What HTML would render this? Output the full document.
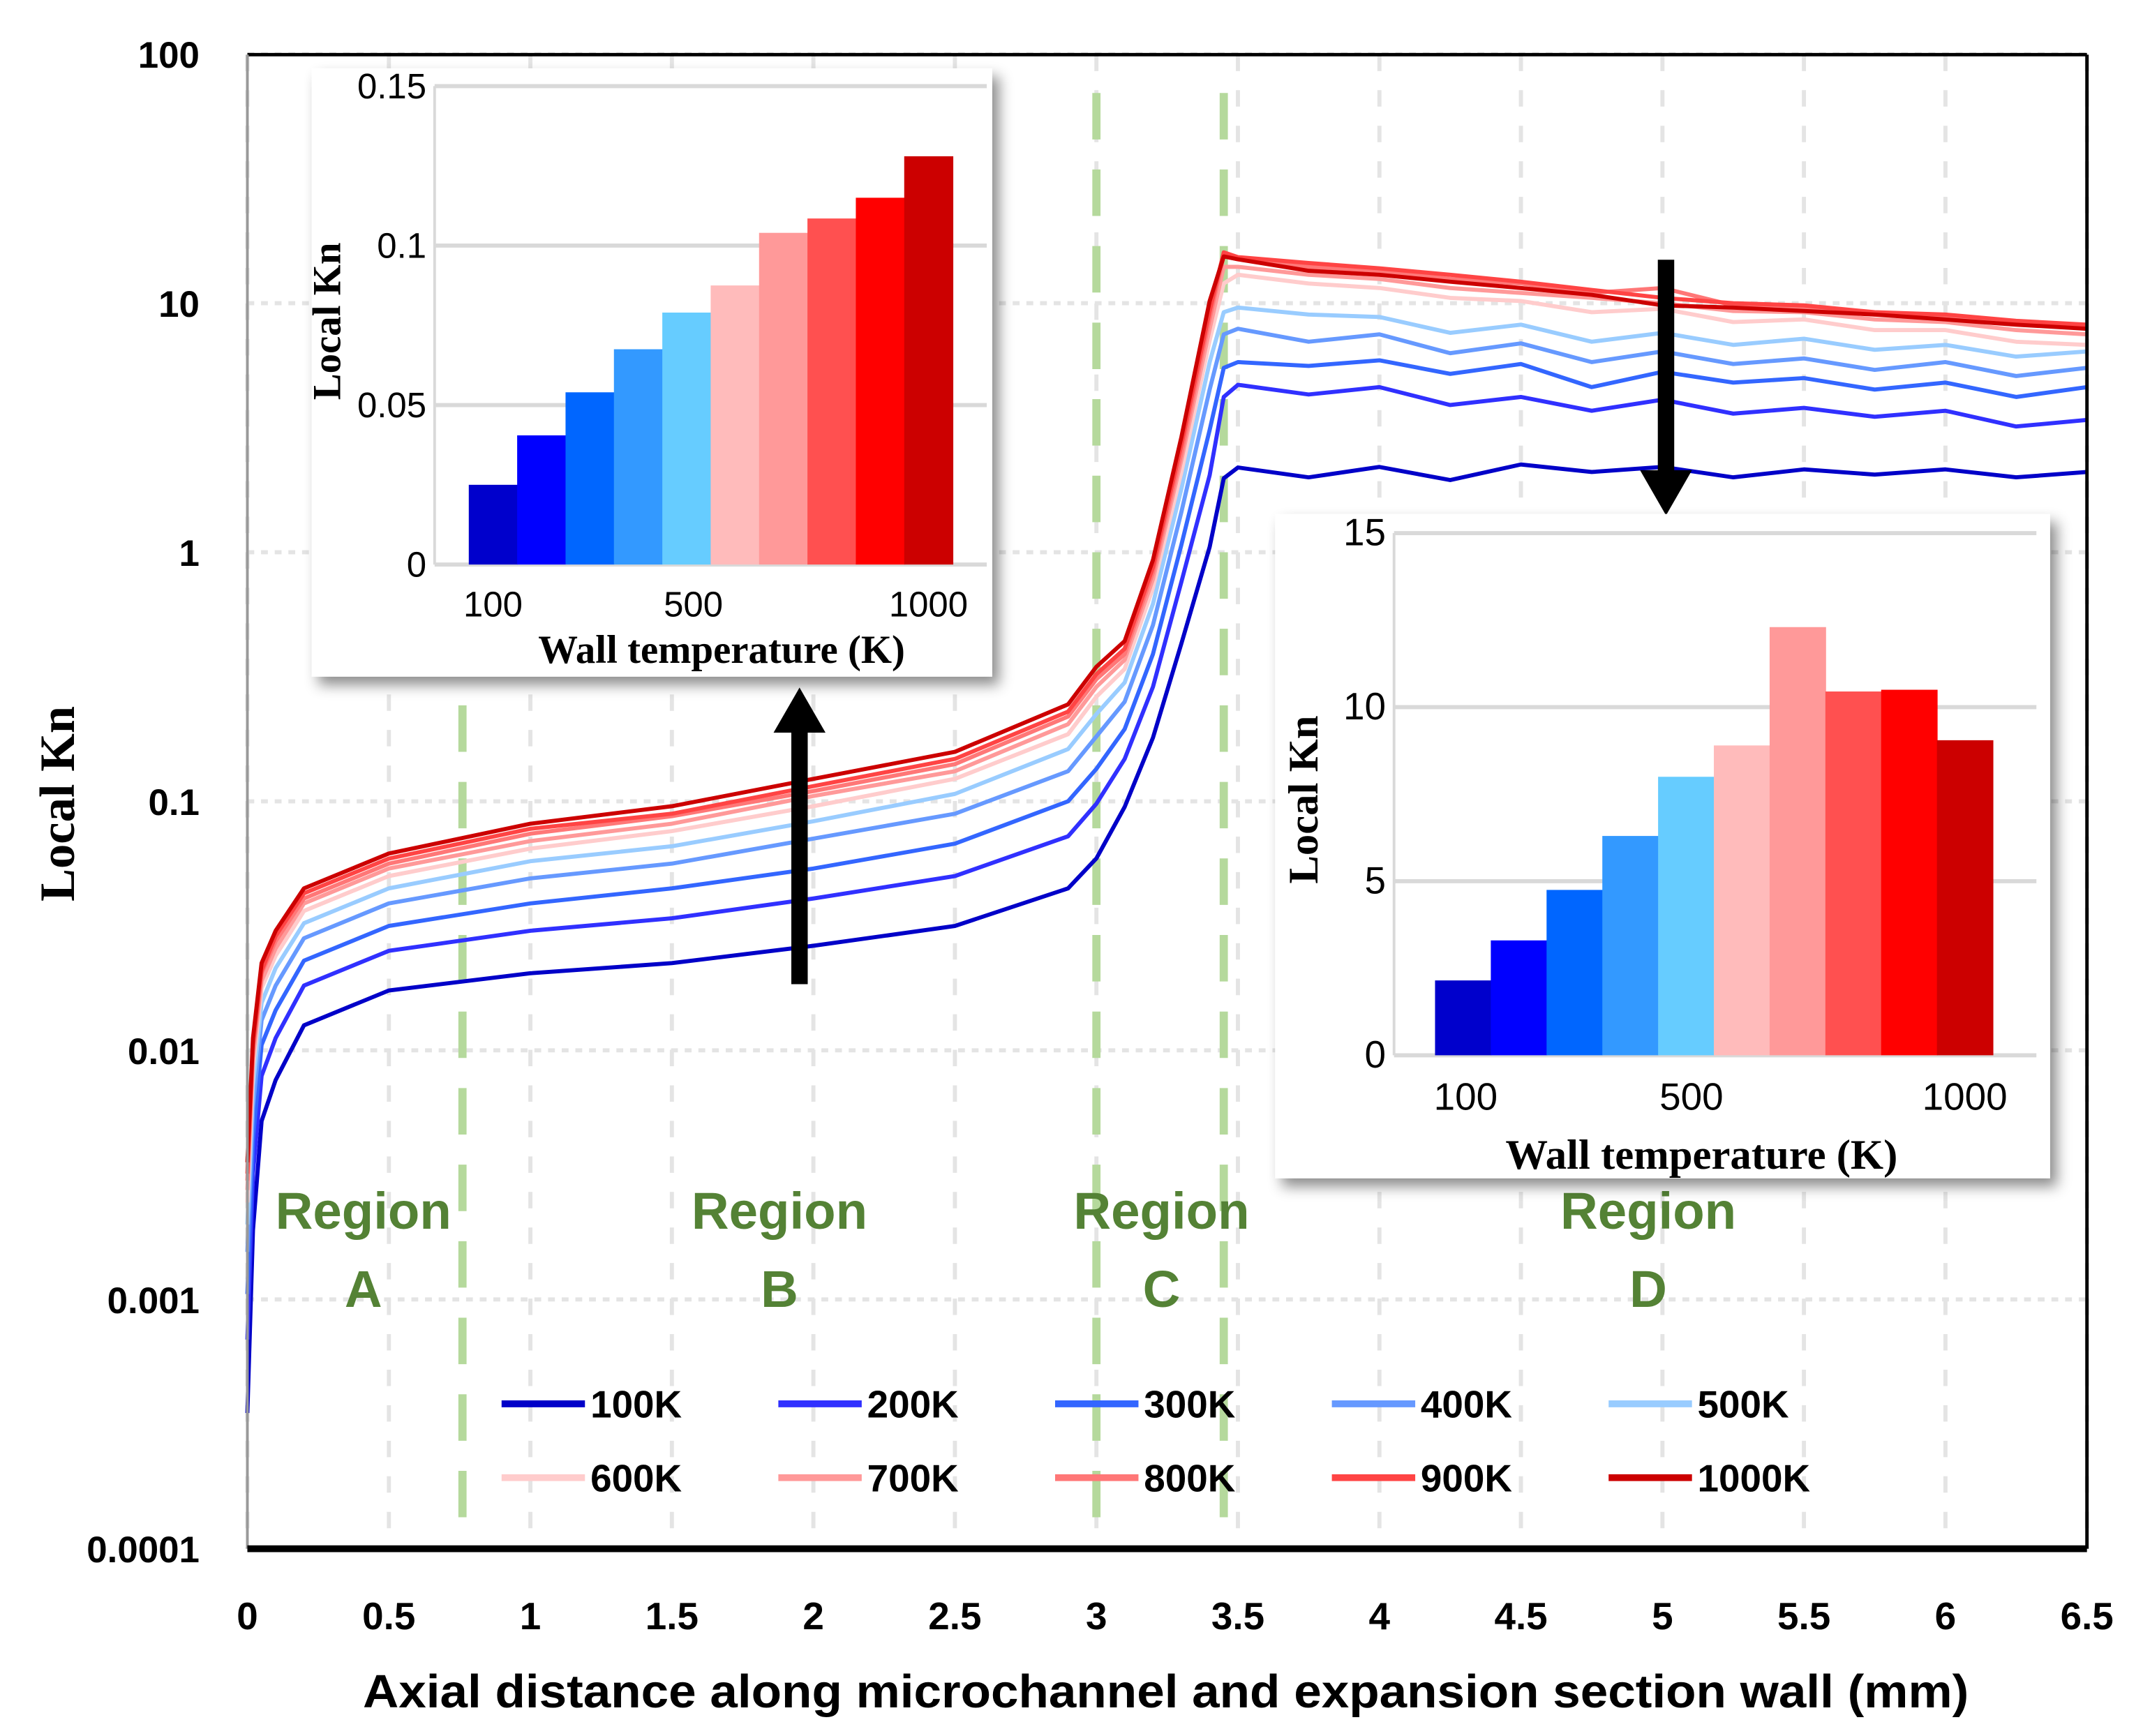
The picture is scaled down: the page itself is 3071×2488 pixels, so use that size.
<!DOCTYPE html>
<html><head><meta charset="utf-8"><style>html,body{margin:0;padding:0;background:#fff}svg{display:block}</style></head>
<body>
<svg id="chart" xmlns="http://www.w3.org/2000/svg" width="3071" height="2488" viewBox="0 0 1568 1270" preserveAspectRatio="none">
<defs><filter id="sh" x="-10%" y="-10%" width="125%" height="125%"><feDropShadow dx="5" dy="6" stdDeviation="5" flood-color="#000" flood-opacity="0.45"/></filter></defs>
<g id="grid"></g><g id="guides"></g><g id="lines"></g><g id="axes"></g><g id="labels"></g><g id="legend"></g><g id="arrows"></g><g id="inset1"></g><g id="inset2"></g>
</svg>
<script>
const NS='http://www.w3.org/2000/svg';
const series=['100K','200K','300K','400K','500K','600K','700K','800K','900K','1000K'];
const colors=['#0000c8','#3030ff','#3366ff','#6699ff','#99ccff','#ffcccc','#ff9999','#ff7777','#ff4444','#cc0000'];
const xGrid=[0,0.02,0.05,0.1,0.2,0.5,1,1.5,2,2.5,2.9,3.0,3.1,3.2,3.3,3.4,3.45,3.5,3.75,4.0,4.25,4.5,4.75,5.0,5.25,5.5,5.75,6.0,6.25,6.5];
const kn100=[0.00035,0.0019,0.0052,0.0076,0.0126,0.0174,0.0204,0.0224,0.0263,0.0316,0.0447,0.059,0.095,0.18,0.43,1.05,1.98,2.19,2.0,2.2,1.95,2.25,2.1,2.2,2.0,2.15,2.05,2.15,2.0,2.1];
const kn200=[0.00069,0.0032,0.0079,0.0112,0.0182,0.0251,0.0302,0.0339,0.0407,0.0501,0.0724,0.0977,0.148,0.288,0.76,2.04,4.2,4.7,4.3,4.6,3.9,4.2,3.7,4.1,3.6,3.8,3.5,3.7,3.2,3.4];
const kn300=[0.00105,0.0044,0.0105,0.0145,0.0229,0.0316,0.0389,0.0447,0.0537,0.0676,0.100,0.135,0.195,0.39,1.07,3.1,5.5,5.8,5.6,5.9,5.2,5.7,4.6,5.3,4.8,5.0,4.5,4.8,4.2,4.6];
const kn400=[0.00155,0.0059,0.0132,0.0182,0.0282,0.0389,0.049,0.0562,0.0708,0.0891,0.132,0.182,0.251,0.51,1.45,4.5,7.5,7.9,7.0,7.5,6.3,6.9,5.8,6.4,5.7,6.0,5.4,5.8,5.1,5.5];
const kn500=[0.002,0.0072,0.0155,0.0214,0.0324,0.0447,0.0575,0.066,0.0832,0.107,0.162,0.224,0.30,0.62,1.8,5.8,9.2,9.6,9.0,8.8,7.6,8.2,7.0,7.6,6.8,7.2,6.5,6.8,6.1,6.4];
const kn600=[0.00245,0.0085,0.0178,0.024,0.0363,0.0501,0.0646,0.0759,0.0955,0.123,0.186,0.263,0.34,0.72,2.1,7.1,12,13,12,11.5,10.5,10.2,9.2,9.5,8.4,8.6,7.8,7.8,7.0,6.8];
const kn700=[0.00275,0.0093,0.019,0.0257,0.0389,0.0537,0.0692,0.0813,0.105,0.132,0.204,0.288,0.37,0.78,2.35,7.9,14,14,13,12.5,11.5,11,10.5,10,9.3,9.2,8.6,8.4,7.8,7.5];
const kn800=[0.003,0.01,0.0204,0.0275,0.0407,0.0562,0.0741,0.0871,0.11,0.141,0.219,0.309,0.39,0.83,2.5,8.7,15.5,15,14,13.5,12.5,12,11,11.5,9.8,9.6,9.0,8.8,8.3,8.0];
const kn900=[0.0032,0.0105,0.0209,0.0288,0.0427,0.0589,0.0776,0.0891,0.115,0.148,0.229,0.324,0.41,0.87,2.7,9.3,16,15.3,14.5,13.8,13,12.2,11.3,10.5,10,9.8,9.2,9.0,8.5,8.2];
const kn1000=[0.00355,0.0112,0.0224,0.0302,0.0447,0.0617,0.0813,0.0955,0.123,0.158,0.245,0.347,0.44,0.93,2.9,10.2,15.4,15,13.5,13,12.2,11.5,10.8,9.8,9.6,9.3,9.0,8.6,8.2,7.9];
const xTicks=['0','0.5','1','1.5','2','2.5','3','3.5','4','4.5','5','5.5','6','6.5'];
const yTicks=['0.0001','0.001','0.01','0.1','1','10','100'];
const regionBounds=[0.76,3.0,3.45];
const regionNames=['A','B','C','D'];
const regionCenters=[0.41,1.88,3.23,4.95];
const barTemps=['100','200','300','400','500','600','700','800','900','1000'];
const barColors=['#0000cc','#0000ff','#0066ff','#3399ff','#66ccff','#ffbbbb','#ff9999','#ff5050','#ff0000','#cc0000'];
const inset1Vals=[0.025,0.0405,0.054,0.0675,0.079,0.0875,0.104,0.1085,0.115,0.128];
const inset1Ticks=['0','0.05','0.1','0.15'];
const inset2Vals=[2.15,3.3,4.75,6.3,8.0,8.9,12.3,10.45,10.5,9.05];
const inset2Ticks=['0','5','10','15'];

const allSeries=[kn100,kn200,kn300,kn400,kn500,kn600,kn700,kn800,kn900,kn1000];
const X0=181,X1=1527,YT=40,YB=1133;
const xs=v=>X0+(X1-X0)*v/6.5;
const ys=v=>404-182.2*Math.log10(v);
function mk(tag,attrs,parent,text){const e=document.createElementNS(NS,tag);for(const k in attrs)e.setAttribute(k,attrs[k]);if(text!==undefined)e.textContent=text;parent.appendChild(e);return e;}
const g=id=>document.getElementById(id);
const SANS='"Liberation Sans", Arial, sans-serif', SERIF='"Liberation Serif", "Times New Roman", serif';

for(let i=0;i<yTicks.length;i++){const y=ys(Number(yTicks[i]));
 const l=mk('line',{x1:X0,x2:X1,y1:y,y2:y,stroke:'#e4e4e4','stroke-width':3,'stroke-dasharray':'5 5'},g('grid'));
 }
for(let i=0;i<xTicks.length;i++){const x=xs(Number(xTicks[i]));
 const l=mk('line',{x1:x,x2:x,y1:YT,y2:YB,stroke:'#e4e4e4','stroke-width':3,'stroke-dasharray':'12 14'},g('grid'));
 }
for(const b of regionBounds){const x=xs(b);
 const l=mk('line',{x1:x,x2:x,y1:YT+28,y2:YB,stroke:'#b5d99c','stroke-width':6,'stroke-dasharray':'34 22'},g('guides'));
 }
allSeries.forEach((arr,k)=>{
 const d=arr.map((v,i)=>(i?'L':'M')+xs(xGrid[i]).toFixed(1)+' '+ys(v).toFixed(1)).join(' ');
 const p=mk('path',{d:d,fill:'none',stroke:colors[k],'stroke-width':3,'stroke-linejoin':'round'},g('lines'));
 
});
const ax=g('axes');
[[X0,YT,X1,YT,'#000',2.5],[X1,YT,X1,YB,'#000',2.5],[X0,YT,X0,YB,'#999',2],[X0,YB,X1,YB,'#000',5]].forEach(a=>{
 const l=mk('line',{x1:a[0],y1:a[1],x2:a[2],y2:a[3],stroke:a[4],'stroke-width':a[5]},ax);
 });
const lb=g('labels');
yTicks.forEach(t=>{const e=mk('text',{x:146,y:ys(Number(t))+10,'text-anchor':'end','font-family':SANS,'font-weight':'bold','font-size':27},lb,t);
 });
xTicks.forEach(t=>{const e=mk('text',{x:xs(Number(t)),y:1192,'text-anchor':'middle','font-family':SANS,'font-weight':'bold','font-size':28},lb,t);
 });
let e=mk('text',{x:853,y:1249,'text-anchor':'middle','font-family':SANS,'font-weight':'bold','font-size':34,textLength:1175,lengthAdjust:'spacingAndGlyphs'},lb,'Axial distance along microchannel and expansion section wall (mm)');

e=mk('text',{x:0,y:0,'text-anchor':'middle','font-family':SERIF,'font-weight':'bold','font-size':36,transform:'translate(54,588) rotate(-90)'},lb,'Local Kn');

regionNames.forEach((n,i)=>{const x=xs(regionCenters[i]);
 const t1=mk('text',{x:x,y:899,'text-anchor':'middle','font-family':SANS,'font-weight':'bold','font-size':38,fill:'#548235'},lb,'Region');
 
 const t2=mk('text',{x:x,y:956,'text-anchor':'middle','font-family':SANS,'font-weight':'bold','font-size':38,fill:'#548235'},lb,n);
 });
series.forEach((s,k)=>{const col=k%5,row=Math.floor(k/5);const x=367+col*202.5,y=1027+row*54;
 const grp=mk('g',{},g('legend'));
 mk('line',{x1:x,x2:x+61,y1:y,y2:y,stroke:colors[k],'stroke-width':5},grp);
 mk('text',{x:x+65,y:y+10,'font-family':SANS,'font-weight':'bold','font-size':28},grp,s);});
function arrow(x,y0,y1){const dir=Math.sign(y1-y0);const ag=mk('g',{},g('arrows'));
 mk('line',{x1:x,x2:x,y1:y0,y2:y1-dir*32,stroke:'#000','stroke-width':12},ag);
 mk('polygon',{points:`${x-19},${y1-dir*33} ${x+19},${y1-dir*33} ${x},${y1}`,fill:'#000'},ag);}
arrow(585,720,503);arrow(1219,190,377);
function inset(id,box,px0,px1,py0,pyTop,vmax,vals,ticks,bx0,bx1,tickPos,fs){
 const G=g(id);
 const r=mk('rect',{x:box[0],y:box[1],width:box[2]-box[0],height:box[3]-box[1],fill:'#fff',filter:'url(#sh)'},G);
 
 const yv=v=>py0-(py0-pyTop)*v/vmax;
 ticks.forEach(t=>{const y=yv(Number(t));
  const l=mk('line',{x1:px0,x2:px1,y1:y,y2:y,stroke:'#d9d9d9','stroke-width':3},G);
  const tx=mk('text',{x:px0-6,y:y+9,'text-anchor':'end','font-family':SANS,'font-size':fs},G,t);});
 const vl=mk('line',{x1:px0,x2:px0,y1:pyTop,y2:py0,stroke:'#d9d9d9','stroke-width':2},G);
 const w=(bx1-bx0)/vals.length;
 vals.forEach((v,i)=>{const b=mk('rect',{x:bx0+i*w,y:yv(v),width:w+0.5,height:py0-yv(v),fill:barColors[i]},G);
  });
 [['100',0],['500',4],['1000',9]].forEach(([t,i])=>{const tx=mk('text',{x:bx0+(i+0.5)*w+tickPos[i===0?0:i===4?1:2],y:py0+(fs+12),'text-anchor':'middle','font-family':SANS,'font-size':fs},G,t);
  });
 return yv;}
inset('inset1',[228,50,726,495],318,722,413,63,0.15,inset1Vals,inset1Ticks,343,697,[0,5,0],26);
e=mk('text',{x:528,y:485,'text-anchor':'middle','font-family':SERIF,'font-weight':'bold','font-size':29},g('inset1'),'Wall temperature (K)');

e=mk('text',{x:0,y:0,'text-anchor':'middle','font-family':SERIF,'font-weight':'bold','font-size':29,transform:'translate(249,235) rotate(-90)'},g('inset1'),'Local Kn');

inset('inset2',[933,376,1500,862],1020,1490,772,390,15,inset2Vals,inset2Ticks,1050,1458,[2,4,0],28);
e=mk('text',{x:1245,y:855,'text-anchor':'middle','font-family':SERIF,'font-weight':'bold','font-size':31},g('inset2'),'Wall temperature (K)');

e=mk('text',{x:0,y:0,'text-anchor':'middle','font-family':SERIF,'font-weight':'bold','font-size':31,transform:'translate(964,585) rotate(-90)'},g('inset2'),'Local Kn');

</script>
</body></html>
